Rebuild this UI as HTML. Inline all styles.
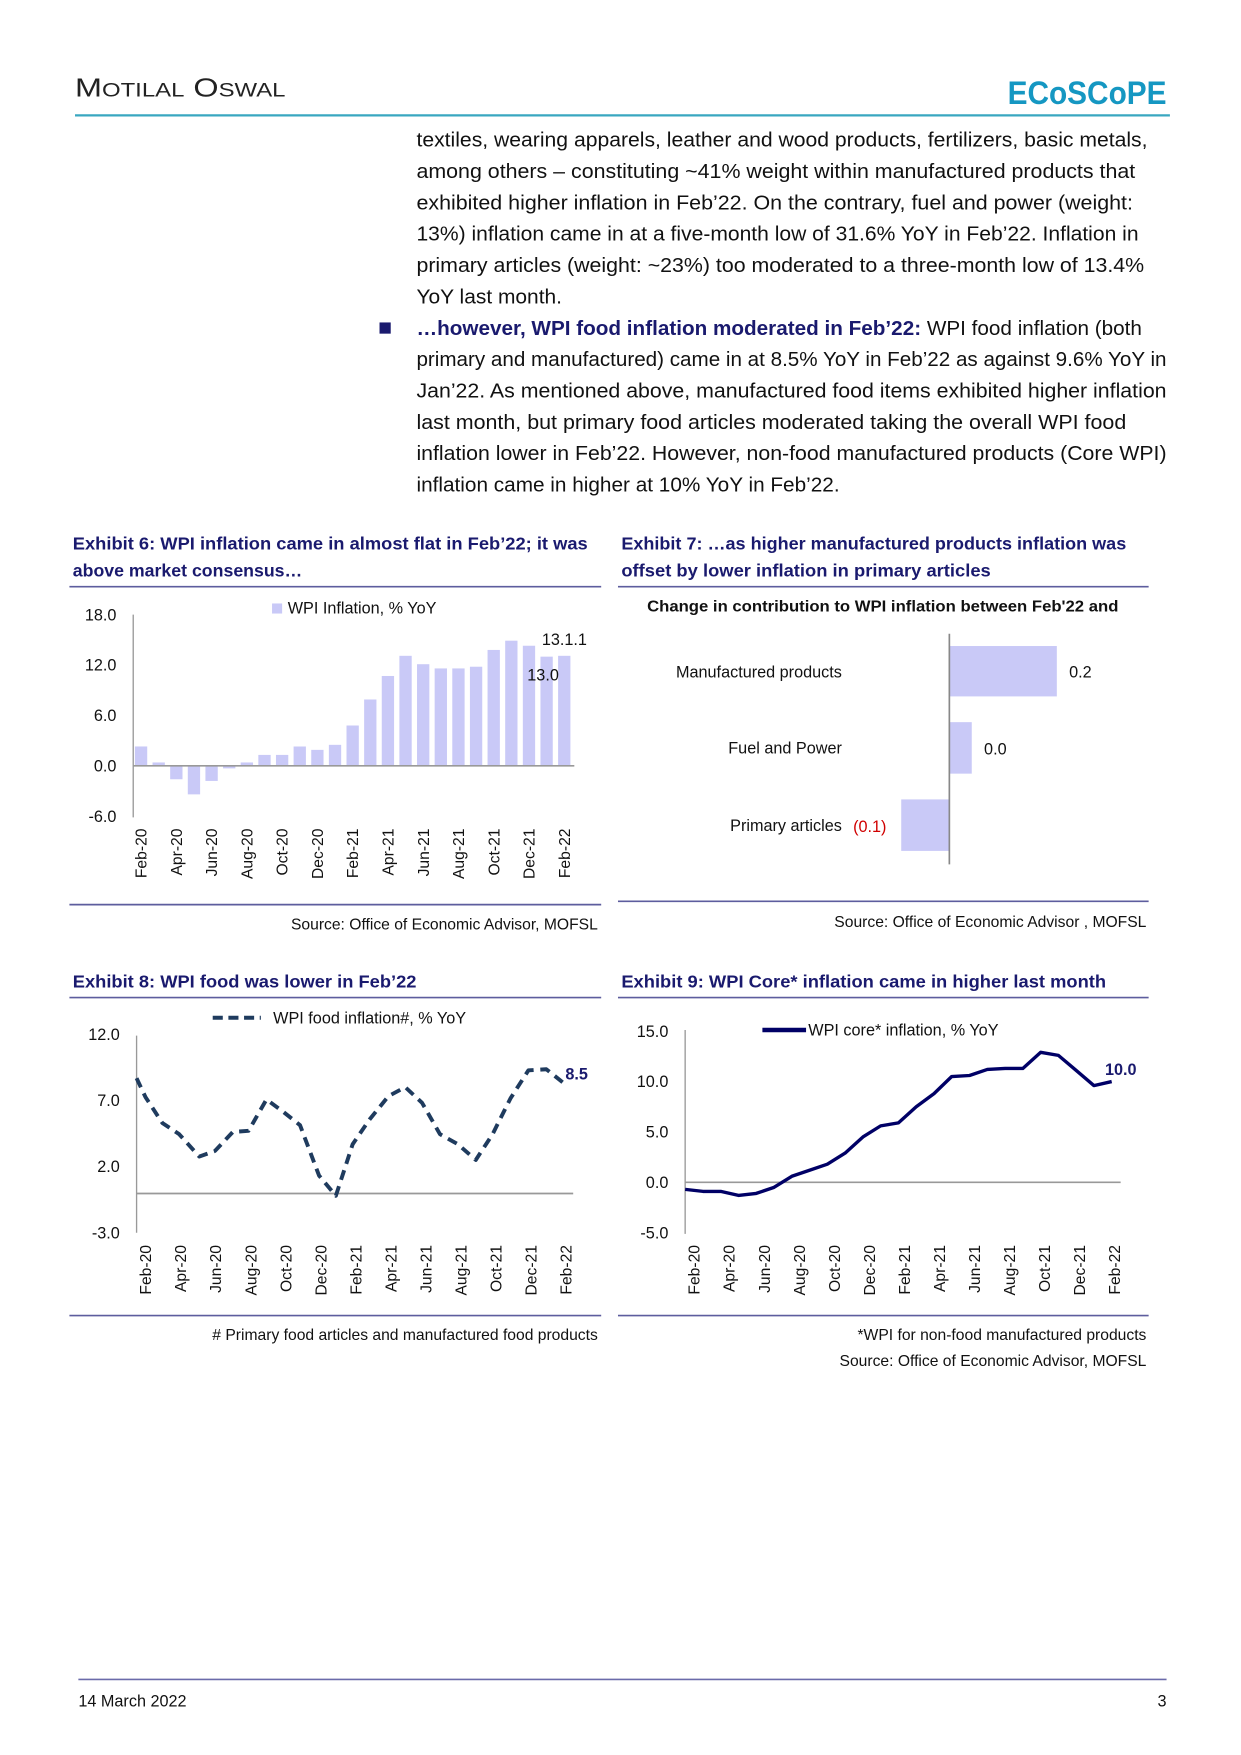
<!DOCTYPE html>
<html><head><meta charset="utf-8"><style>
html,body{margin:0;padding:0;background:#fff;}
svg{display:block;}
text{font-family:"Liberation Sans",sans-serif;}
</style></head><body>
<svg width="1241" height="1755" viewBox="0 0 1108.5 1567.5" preserveAspectRatio="none" xmlns="http://www.w3.org/2000/svg">
<rect width="1110" height="1570" fill="#fff"/>
<!-- header -->
<text x="67" y="86" font-family="Liberation Serif" font-size="23" fill="#222" textLength="188" lengthAdjust="spacingAndGlyphs">M<tspan font-size="17">OTILAL</tspan> O<tspan font-size="17">SWAL</tspan></text>
<text x="900" y="93" font-size="29" font-weight="bold" fill="#1597c2" textLength="142" lengthAdjust="spacingAndGlyphs">ECoSCoPE</text>
<line x1="67" y1="103" x2="1045" y2="103" stroke="#39a7c0" stroke-width="2"/>
<!-- paragraph -->
<g font-size="18" fill="#111">
<text x="372" y="131" textLength="653" lengthAdjust="spacingAndGlyphs">textiles, wearing apparels, leather and wood products, fertilizers, basic metals,</text>
<text x="372" y="159" textLength="642" lengthAdjust="spacingAndGlyphs">among others – constituting ~41% weight within manufactured products that</text>
<text x="372" y="187" textLength="640" lengthAdjust="spacingAndGlyphs">exhibited higher inflation in Feb’22. On the contrary, fuel and power (weight:</text>
<text x="372" y="215" textLength="645" lengthAdjust="spacingAndGlyphs">13%) inflation came in at a five-month low of 31.6% YoY in Feb’22. Inflation in</text>
<text x="372" y="243" textLength="650" lengthAdjust="spacingAndGlyphs">primary articles (weight: ~23%) too moderated to a three-month low of 13.4%</text>
<text x="372" y="271" textLength="130" lengthAdjust="spacingAndGlyphs">YoY last month.</text>
<rect x="339" y="288" width="10" height="10" fill="#1a1a6e"/>
<text x="372" y="299" textLength="648" lengthAdjust="spacingAndGlyphs"><tspan font-weight="bold" fill="#1a1a6e">…however, WPI food inflation moderated in Feb’22:</tspan> WPI food inflation (both</text>
<text x="372" y="327" textLength="670" lengthAdjust="spacingAndGlyphs">primary and manufactured) came in at 8.5% YoY in Feb’22 as against 9.6% YoY in</text>
<text x="372" y="355" textLength="670" lengthAdjust="spacingAndGlyphs">Jan’22. As mentioned above, manufactured food items exhibited higher inflation</text>
<text x="372" y="383" textLength="634" lengthAdjust="spacingAndGlyphs">last month, but primary food articles moderated taking the overall WPI food</text>
<text x="372" y="411" textLength="670" lengthAdjust="spacingAndGlyphs">inflation lower in Feb’22. However, non-food manufactured products (Core WPI)</text>
<text x="372" y="439" textLength="378" lengthAdjust="spacingAndGlyphs">inflation came in higher at 10% YoY in Feb’22.</text>
</g>
<!-- exhibit titles -->
<g font-size="16" font-weight="bold" fill="#1a1a6e">
<text x="65" y="491" textLength="460" lengthAdjust="spacingAndGlyphs">Exhibit 6: WPI inflation came in almost flat in Feb’22; it was</text>
<text x="65" y="515" textLength="205" lengthAdjust="spacingAndGlyphs">above market consensus…</text>
<text x="555" y="491" textLength="451" lengthAdjust="spacingAndGlyphs">Exhibit 7: …as higher manufactured products inflation was</text>
<text x="555" y="515" textLength="330" lengthAdjust="spacingAndGlyphs">offset by lower inflation in primary articles</text>
<text x="65" y="882" textLength="307" lengthAdjust="spacingAndGlyphs">Exhibit 8: WPI food was lower in Feb’22</text>
<text x="555" y="882" textLength="433" lengthAdjust="spacingAndGlyphs">Exhibit 9: WPI Core* inflation came in higher last month</text>
</g>
<g stroke="#5d5d9e" stroke-width="1.5">
<line x1="62" y1="524" x2="537" y2="524"/><line x1="552" y1="524" x2="1026" y2="524"/>
<line x1="62" y1="808" x2="537" y2="808"/><line x1="552" y1="805" x2="1026" y2="805"/>
<line x1="62" y1="891" x2="537" y2="891"/><line x1="552" y1="891" x2="1026" y2="891"/>
<line x1="62" y1="1175" x2="537" y2="1175"/><line x1="552" y1="1175" x2="1026" y2="1175"/>
</g>
<!-- Chart 6 -->
<g fill="#c9c9f7">
<rect x="120.5" y="666.7" width="11" height="17.3"/><rect x="136.25" y="681" width="11" height="3"/>
<rect x="152" y="684" width="11" height="12"/><rect x="167.75" y="684" width="11" height="25.5"/>
<rect x="183.5" y="684" width="11" height="13.5"/><rect x="199.25" y="684" width="11" height="2.3"/>
<rect x="215" y="681" width="11" height="3"/><rect x="230.75" y="674.25" width="11" height="9.75"/>
<rect x="246.5" y="674.25" width="11" height="9.75"/><rect x="262.25" y="666.75" width="11" height="17.25"/>
<rect x="278" y="669.75" width="11" height="14.25"/><rect x="293.75" y="665.25" width="11" height="18.75"/>
<rect x="309.5" y="648" width="11" height="36"/><rect x="325.25" y="624.75" width="11" height="59.25"/>
<rect x="341" y="603.75" width="11" height="80.25"/><rect x="356.75" y="585.75" width="11" height="98.25"/>
<rect x="372.5" y="593.25" width="11" height="90.75"/><rect x="388.25" y="597" width="11" height="87"/>
<rect x="404" y="597" width="11" height="87"/><rect x="419.75" y="595.5" width="11" height="88.5"/>
<rect x="435.5" y="580.5" width="11" height="103.5"/><rect x="451.25" y="572.25" width="11" height="111.75"/>
<rect x="467" y="576.75" width="11" height="107.25"/><rect x="482.75" y="586.5" width="11" height="97.5"/>
<rect x="498.5" y="585.75" width="11" height="98.25"/>
<rect x="243" y="539" width="9" height="9"/>
</g>
<line x1="119" y1="549" x2="119" y2="730" stroke="#999" stroke-width="1.2"/>
<line x1="119" y1="684" x2="513" y2="684" stroke="#999" stroke-width="1.5"/>
<g font-size="14.5" fill="#111" text-anchor="end">
<text x="104" y="554">18.0</text><text x="104" y="599">12.0</text><text x="104" y="644">6.0</text><text x="104" y="689">0.0</text><text x="104" y="734">-6.0</text>
</g>
<text x="257" y="548" font-size="14.5" fill="#111">WPI Inflation, % YoY</text>
<text x="484" y="576" font-size="14.5" fill="#111">13.1.1</text>
<text x="471" y="608" font-size="14.5" fill="#111">13.0</text>
<g font-size="14" fill="#111" text-anchor="end">
<text transform="translate(131,740) rotate(-90)">Feb-20</text><text transform="translate(162.5,740) rotate(-90)">Apr-20</text>
<text transform="translate(194,740) rotate(-90)">Jun-20</text><text transform="translate(225.5,740) rotate(-90)">Aug-20</text>
<text transform="translate(257,740) rotate(-90)">Oct-20</text><text transform="translate(288.5,740) rotate(-90)">Dec-20</text>
<text transform="translate(320,740) rotate(-90)">Feb-21</text><text transform="translate(351.5,740) rotate(-90)">Apr-21</text>
<text transform="translate(383,740) rotate(-90)">Jun-21</text><text transform="translate(414.5,740) rotate(-90)">Aug-21</text>
<text transform="translate(446,740) rotate(-90)">Oct-21</text><text transform="translate(477.5,740) rotate(-90)">Dec-21</text>
<text transform="translate(509,740) rotate(-90)">Feb-22</text>
</g>
<text x="534" y="830" font-size="14" fill="#111" text-anchor="end">Source: Office of Economic Advisor, MOFSL</text>
<!-- Chart 7 -->
<text x="578" y="546" font-size="14" font-weight="bold" fill="#111" textLength="421" lengthAdjust="spacingAndGlyphs">Change in contribution to WPI inflation between Feb'22  and</text>
<g fill="#c9c9f7">
<rect x="848" y="577" width="96" height="45"/><rect x="848" y="645" width="20" height="46"/><rect x="805" y="714" width="43" height="46"/>
</g>
<line x1="848" y1="566" x2="848" y2="772" stroke="#888" stroke-width="1.5"/>
<g font-size="14.5" fill="#111">
<text x="752" y="605" text-anchor="end">Manufactured products</text><text x="955" y="605">0.2</text>
<text x="752" y="673" text-anchor="end">Fuel and Power</text><text x="879" y="674">0.0</text>
<text x="752" y="742" text-anchor="end">Primary articles</text><text x="762" y="743" fill="#d00000">(0.1)</text>
</g>
<text x="1024" y="828" font-size="14" fill="#111" text-anchor="end">Source: Office of Economic Advisor , MOFSL</text>
<!-- Chart 8 -->
<line x1="190" y1="909" x2="233" y2="909" stroke="#1f3b5e" stroke-width="3.5" stroke-dasharray="9 5"/>
<text x="244" y="914" font-size="14.5" fill="#111">WPI food inflation#, % YoY</text>
<line x1="122" y1="925" x2="122" y2="1101" stroke="#999" stroke-width="1.2"/>
<line x1="122" y1="1066" x2="512" y2="1066" stroke="#999" stroke-width="1.5"/>
<g font-size="14.5" fill="#111" text-anchor="end">
<text x="107" y="929">12.0</text><text x="107" y="988">7.0</text><text x="107" y="1047">2.0</text><text x="107" y="1106">-3.0</text>
</g>
<polyline fill="none" stroke="#1f3b5e" stroke-width="3.5" stroke-dasharray="9 6" stroke-linejoin="round" points="122,963 130,980 145,1003 160,1013 178,1033 192,1028 208,1011 222,1010 238,982 253,993 268,1005 285,1050 300,1068 315,1022 330,1000 347,979 362,971 377,985 393,1013 409,1022 425,1036 440,1013 456,981 472,956 488,955 503,967"/>
<text x="505" y="964" font-size="14.5" font-weight="bold" fill="#1a1a6e">8.5</text>
<g font-size="14" fill="#111" text-anchor="end">
<text transform="translate(135,1112) rotate(-90)">Feb-20</text><text transform="translate(166.3,1112) rotate(-90)">Apr-20</text>
<text transform="translate(197.6,1112) rotate(-90)">Jun-20</text><text transform="translate(228.9,1112) rotate(-90)">Aug-20</text>
<text transform="translate(260.2,1112) rotate(-90)">Oct-20</text><text transform="translate(291.5,1112) rotate(-90)">Dec-20</text>
<text transform="translate(322.8,1112) rotate(-90)">Feb-21</text><text transform="translate(354.1,1112) rotate(-90)">Apr-21</text>
<text transform="translate(385.4,1112) rotate(-90)">Jun-21</text><text transform="translate(416.7,1112) rotate(-90)">Aug-21</text>
<text transform="translate(448,1112) rotate(-90)">Oct-21</text><text transform="translate(479.3,1112) rotate(-90)">Dec-21</text>
<text transform="translate(510.6,1112) rotate(-90)">Feb-22</text>
</g>
<text x="534" y="1197" font-size="14" fill="#111" text-anchor="end"># Primary food articles and manufactured food products</text>
<!-- Chart 9 -->
<line x1="681" y1="920" x2="720" y2="920" stroke="#000066" stroke-width="4"/>
<text x="722" y="925" font-size="14.5" fill="#111">WPI core* inflation, % YoY</text>
<line x1="612" y1="920" x2="612" y2="1102" stroke="#999" stroke-width="1.2"/>
<line x1="612" y1="1056" x2="1001" y2="1056" stroke="#999" stroke-width="1.5"/>
<g font-size="14.5" fill="#111" text-anchor="end">
<text x="597" y="926">15.0</text><text x="597" y="971">10.0</text><text x="597" y="1016">5.0</text><text x="597" y="1061">0.0</text><text x="597" y="1106">-5.0</text>
</g>
<polyline fill="none" stroke="#000066" stroke-width="3" stroke-linejoin="round" points="612,1062.3 627.9,1064.1 643.8,1064.1 659.6,1067.7 675.5,1065.9 691.4,1060.5 707.3,1050.6 723.1,1045.2 739,1039.8 754.9,1029.9 770.8,1015.5 786.6,1005.6 802.5,1002.9 818.4,988.5 834.3,976.8 850.1,961.5 866,960.6 881.9,955.2 897.8,954.3 913.6,954.3 929.5,939.9 945.4,942.6 961.3,956.1 977.1,969.6 993,966"/>
<text x="987" y="960" font-size="14.5" font-weight="bold" fill="#1a1a6e">10.0</text>
<g font-size="14" fill="#111" text-anchor="end">
<text transform="translate(625,1112) rotate(-90)">Feb-20</text><text transform="translate(656.3,1112) rotate(-90)">Apr-20</text>
<text transform="translate(687.6,1112) rotate(-90)">Jun-20</text><text transform="translate(718.9,1112) rotate(-90)">Aug-20</text>
<text transform="translate(750.2,1112) rotate(-90)">Oct-20</text><text transform="translate(781.5,1112) rotate(-90)">Dec-20</text>
<text transform="translate(812.8,1112) rotate(-90)">Feb-21</text><text transform="translate(844.1,1112) rotate(-90)">Apr-21</text>
<text transform="translate(875.4,1112) rotate(-90)">Jun-21</text><text transform="translate(906.7,1112) rotate(-90)">Aug-21</text>
<text transform="translate(938,1112) rotate(-90)">Oct-21</text><text transform="translate(969.3,1112) rotate(-90)">Dec-21</text>
<text transform="translate(1000.6,1112) rotate(-90)">Feb-22</text>
</g>
<text x="1024" y="1197" font-size="14" fill="#111" text-anchor="end">*WPI for non-food manufactured products</text>
<text x="1024" y="1220" font-size="14" fill="#111" text-anchor="end">Source: Office of Economic Advisor, MOFSL</text>
<!-- footer -->
<line x1="70" y1="1500" x2="1042" y2="1500" stroke="#6b6baa" stroke-width="1.5"/>
<text x="70" y="1524" font-size="14.5" fill="#111">14 March 2022</text>
<text x="1042" y="1524" font-size="14.5" fill="#111" text-anchor="end">3</text>
</svg>
</body></html>
